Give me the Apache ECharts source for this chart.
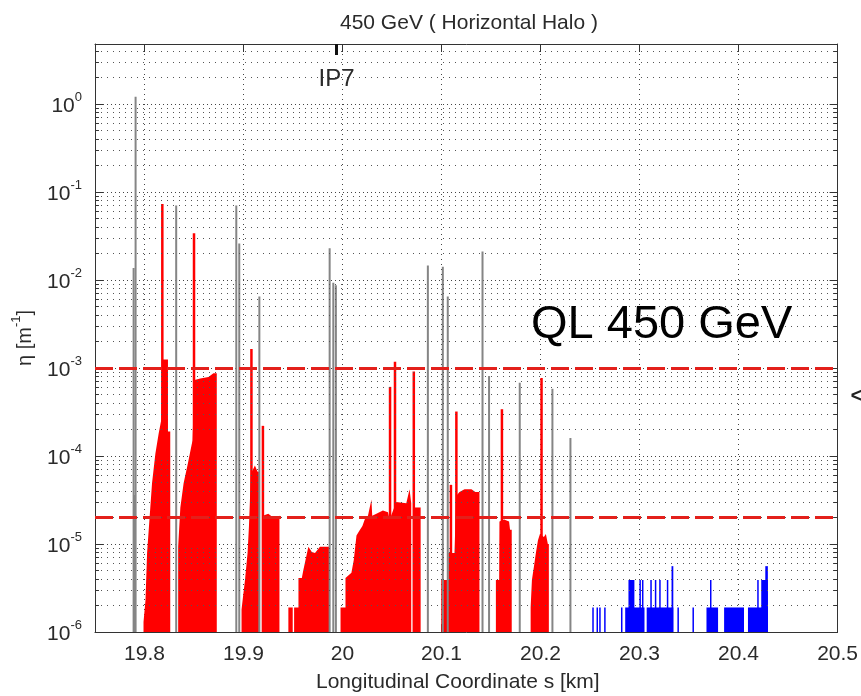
<!DOCTYPE html>
<html>
<head>
<meta charset="utf-8">
<script src="https://cdn.jsdelivr.net/npm/echarts@6/dist/echarts.min.js"></script>
<style>
html, body { margin: 0; padding: 0; background: #fff; }
#chart { width: 861px; height: 696px; }
</style>
</head>
<body>
<div id="chart"></div>
<script>
// axis ranges
var xMin = 19.75, xMax = 20.5;
var yMin = 1e-6, yMax = 4.8;

// grey loss spikes (s [km], eta)
var grayS   = [19.789, 19.790, 19.791, 19.832, 19.8927, 19.8957, 19.916, 19.987, 19.9907, 19.9933,
               20.0862, 20.1013, 20.1063, 20.1414, 20.148, 20.179, 20.212, 20.2302];
var grayEta = [0.0137, 3.6e-5, 1.21, 0.070, 0.070, 0.026, 6.5e-3, 0.023, 9.3e-3, 8.7e-3,
               0.0146, 0.0141, 6.5e-3, 0.021, 8.1e-4, 6.8e-4, 5.8e-4, 1.6e-4];

// thin red spikes
var redSpikeS   = [19.818, 19.850, 19.908, 19.9196, 20.048, 20.053, 20.072, 20.1095, 20.115, 20.161, 20.201];
var redSpikeEta = [0.073, 0.034, 1.64e-3, 2.2e-4, 6.1e-4, 1.18e-3, 9.1e-4, 4.7e-5, 3.2e-4, 3.4e-4, 7.7e-4];

// red filled loss regions, blocks separated by null
var redS = [
  19.799, 19.801, 19.8026, 19.805, 19.8076, 19.811, 19.8143, 19.817, 19.8184, 19.8237, 19.8237, 19.826, null,
  19.834, 19.8362, 19.8395, 19.8438, 19.8472, 19.8485, 19.8505, 19.8563, 19.8646, 19.8696, 19.873, null,
  19.898, 19.9015, 19.9041, 19.9055, 19.9075, 19.9115, 19.9142, 19.9156, null,
  19.9196, 19.925, 19.930, 19.9363, null,
  19.9453, 19.9497, null,
  19.9511, 19.9555, 19.9555, 19.9589, 19.9605, 19.9655, 19.969, 19.9722, 19.9772, 19.9865, null,
  19.998, 20.003, 20.003, 20.009, 20.0114, 20.0141, 20.0167, 20.0201, 20.0224, 20.0257, 20.0292, 20.030,
  20.0342, 20.0408, 20.0459, 20.0476, 20.0543, 20.0644, 20.0677, 20.0694, null,
  20.0727, 20.0789, null,
  20.0997, 20.107, 20.107, 20.1131, 20.1148, 20.1181, 20.1232, 20.1302, 20.1342, 20.1383, null,
  20.1549, 20.1582, 20.1585, 20.1632, 20.1682, 20.1692, 20.1709, null,
  20.19, 20.1913, 20.1933, 20.1953, 20.1974, 20.1994, 20.2034, 20.2054, 20.2074, 20.2084
];
var redEta = [
  1.3e-6, 2.3e-6, 7.9e-6, 1.9e-5, 4.9e-5, 1.07e-4, 1.8e-4, 2.6e-4, 1.25e-3, 1.25e-3, 1.9e-4, 1.9e-4, null,
  9.3e-6, 2.6e-5, 4.9e-5, 8.2e-5, 1.27e-4, 1.5e-4, 7.3e-4, 7.6e-4, 7.9e-4, 8.7e-4, 8.7e-4, null,
  1.8e-6, 3.9e-6, 7.9e-6, 1.6e-5, 6.3e-5, 7.8e-5, 6.6e-5, 6.6e-5, null,
  2.1e-5, 2.2e-5, 2.0e-5, 2.1e-5, null,
  1.9e-6, 1.9e-6, null,
  1.9e-6, 1.9e-6, 4.1e-6, 4.1e-6, 5.1e-6, 9.3e-6, 8.1e-6, 7.9e-6, 9.3e-6, 9.3e-6, null,
  1.9e-6, 1.9e-6, 4.1e-6, 4.7e-6, 6.6e-6, 1.25e-5, 1.4e-5, 1.6e-5, 1.9e-5, 2.1e-5, 3.2e-5, 2.1e-5,
  2.2e-5, 2.4e-5, 2.3e-5, 1.9e-5, 3.0e-5, 2.9e-5, 4.2e-5, 2.9e-5, null,
  2.6e-5, 2.6e-5, null,
  3.9e-6, 3.9e-6, 7.9e-6, 7.9e-6, 3.5e-5, 3.9e-5, 4.2e-5, 4.2e-5, 3.9e-5, 3.9e-5, null,
  3.9e-6, 3.9e-6, 1.8e-5, 1.9e-5, 1.8e-5, 1.45e-5, 1.45e-5, null,
  1.9e-6, 3.9e-6, 5.5e-6, 7.9e-6, 1.1e-5, 1.3e-5, 1.2e-5, 1.3e-5, 1.0e-5, 1.0e-5
];

// blue bins: start s, end s, level
var blueStart = [20.253, 20.2573, 20.26, 20.265, 20.282, 20.2855, 20.2888, 20.3006, 20.3032,
                 20.3072, 20.3116, 20.3162, 20.3206, 20.3283, 20.3323, 20.339, 20.3542,
                 20.3676, 20.3719, 20.3854, 20.4095, 20.4196, 20.4229, 20.427];
var blueEnd   = [20.253, 20.2573, 20.26, 20.265, 20.282, 20.305, 20.2948, 20.3006, 20.3032,
                 20.3341, 20.3116, 20.3162, 20.3206, 20.3283, 20.3341, 20.339, 20.3542,
                 20.3793, 20.3719, 20.4055, 20.4296, 20.4196, 20.4296, 20.4296];
var blueLevel = [1.9e-6, 1.9e-6, 1.9e-6, 1.9e-6, 1.9e-6, 1.9e-6, 3.9e-6, 3.9e-6, 3.9e-6,
                 1.9e-6, 3.9e-6, 3.9e-6, 3.9e-6, 3.9e-6, 5.6e-6, 1.9e-6, 1.9e-6,
                 1.9e-6, 3.9e-6, 1.9e-6, 1.9e-6, 3.9e-6, 3.9e-6, 5.6e-6];

// quench limit lines
var qlLevels = [1e-3, 2e-5];
var ip7S = 19.994;

var FONT = "'Liberation Sans', Arial, sans-serif";
var TXT = '#2a2a2a';

// split red arrays into blocks
var redBlocks = [];
var cur = [];
for (var i = 0; i < redS.length; i++) {
    if (redS[i] === null) {
        redBlocks.push(cur);
        cur = [];
    } else {
        cur.push([redS[i], redEta[i]]);
    }
}
if (cur.length) redBlocks.push(cur);

// minor grid values 2..9 x 10^n
var minorVals = [];
for (var n = -6; n <= 0; n++) {
    for (var k = 2; k <= 9; k++) {
        var v = k * Math.pow(10, n);
        if (v < yMax) minorVals.push(v);
    }
}

function spikeItem(color, w) {
    return function (params, api) {
        var top = api.coord([api.value(0), api.value(1)]);
        var bot = api.coord([api.value(0), yMin]);
        return {
            type: 'rect',
            shape: { x: top[0] - w / 2, y: top[1], width: w, height: bot[1] - top[1] },
            style: { fill: color }
        };
    };
}

var chart = echarts.init(document.getElementById('chart'));

var option = {
    animation: false,
    backgroundColor: '#fff',
    title: [{
        text: '450 GeV ( Horizontal Halo )',
        left: 335, top: 8,
        textStyle: { fontFamily: FONT, fontSize: 21, fontWeight: 'normal', color: TXT }
    }, {
        text: 'Longitudinal Coordinate s [km]',
        left: 311, top: 667,
        textStyle: { fontFamily: FONT, fontSize: 21, fontWeight: 'normal', color: TXT }
    }],
    grid: { left: 95, right: 21, top: 44, bottom: 64, containLabel: false },
    xAxis: [{
        type: 'value', min: xMin, max: xMax, splitNumber: 8, minInterval: 0.1, maxInterval: 0.1,
        position: 'bottom',
        axisLine: { show: true, onZero: false, lineStyle: { color: '#333', width: 1 } },
        axisTick: { show: true, inside: true, length: 8, lineStyle: { color: '#333' } },
        axisLabel: {
            showMinLabel: false, margin: 12, fontFamily: FONT, fontSize: 21, color: TXT,
            formatter: function (v) { return Math.abs(v * 10 - Math.round(v * 10)) < 1e-6 ? String(+v.toFixed(1)) : ''; }
        },
        splitLine: { show: true, lineStyle: { color: '#444', type: [1, 4], width: 1 } }
    }, {
        type: 'value', min: xMin, max: xMax, splitNumber: 8, minInterval: 0.1, maxInterval: 0.1,
        position: 'top',
        axisLine: { show: true, onZero: false, lineStyle: { color: '#333', width: 1 } },
        axisTick: { show: true, inside: true, length: 8, lineStyle: { color: '#333' } },
        axisLabel: { show: false },
        splitLine: { show: false }
    }],
    yAxis: [{
        type: 'log', logBase: 10, min: yMin, max: yMax, position: 'left',
        axisLine: { show: true, onZero: false, lineStyle: { color: '#333', width: 1 } },
        axisTick: { show: true, inside: true, length: 8, lineStyle: { color: '#333' } },
        splitLine: { show: true, lineStyle: { color: '#444', type: [1, 3], width: 1 } },
        axisLabel: {
            margin: 13,
            formatter: function (v) {
                var e = Math.log10(v);
                if (Math.abs(e - Math.round(e)) > 1e-6) return '';
                return '{b|10}{s|' + Math.round(e) + '}';
            },
            rich: {
                b: { fontFamily: FONT, fontSize: 21, color: TXT, verticalAlign: 'bottom' },
                s: { fontFamily: FONT, fontSize: 13, color: TXT, verticalAlign: 'top', padding: [0, 0, 13, 0] }
            }
        },
        name: '{n|\u03b7 [m}{e|-1}{n|]}',
        nameLocation: 'middle', nameRotate: 90, nameGap: 60,
        nameTextStyle: {
            rich: {
                n: { fontFamily: FONT, fontSize: 20, color: TXT, verticalAlign: 'bottom' },
                e: { fontFamily: FONT, fontSize: 13, color: TXT, verticalAlign: 'top', padding: [0, 0, 12, 0] }
            }
        }
    }, {
        type: 'log', logBase: 10, min: yMin, max: yMax, position: 'right',
        axisLine: { show: true, onZero: false, lineStyle: { color: '#333', width: 1 } },
        axisTick: { show: true, inside: true, length: 8, lineStyle: { color: '#333' } },
        axisLabel: { show: false },
        splitLine: { show: false }
    }],
    graphic: [{
        type: 'text', left: 531, top: 302, z: 100,
        style: { text: 'QL 450 GeV', font: '47px ' + FONT, fill: '#000' }
    }, {
        type: 'text', left: 850, top: 382, z: 100,
        style: { text: '<', font: '30px ' + FONT, fill: '#222' }
    }],
    series: [{
        // minor grid lines and minor ticks
        type: 'line', data: [], silent: true, z: 1,
        markLine: {
            silent: true, symbol: ['none', 'none'], animation: false, precision: 12,
            label: { show: false },
            lineStyle: { color: '#555', type: [1, 5], width: 1 },
            data: minorVals.map(function (v) { return { yAxis: v }; })
        }
    }, {
        type: 'line', data: [], silent: true, z: 1,
        markLine: {
            silent: true, symbol: ['none', 'none'], animation: false, precision: 12,
            label: { show: false },
            lineStyle: { color: '#333', type: 'solid', width: 1 },
            data: minorVals.map(function (v) {
                return [{ coord: [xMin, v] }, { coord: [xMin + 0.004, v] }];
            }).concat(minorVals.map(function (v) {
                return [{ coord: [xMax - 0.004, v] }, { coord: [xMax, v] }];
            }))
        }
    }, {
        // red filled regions
        type: 'custom', clip: true, z: 3,
        data: redBlocks.map(function (b, i) { return [b[0][0], b[0][1], i]; }),
        encode: { x: 0, y: 1 },
        renderItem: function (params, api) {
            var b = redBlocks[api.value(2)];
            var pts = [api.coord([b[0][0], yMin])];
            for (var j = 0; j < b.length; j++) pts.push(api.coord(b[j]));
            pts.push(api.coord([b[b.length - 1][0], yMin]));
            return { type: 'polygon', shape: { points: pts }, style: { fill: '#ff0000' } };
        }
    }, {
        // grey spikes
        type: 'custom', clip: true, z: 4,
        data: grayS.map(function (s, i) { return [s, grayEta[i]]; }),
        encode: { x: 0, y: 1 },
        renderItem: spikeItem('#858585', 2)
    }, {
        // red spikes
        type: 'custom', clip: true, z: 4,
        data: redSpikeS.map(function (s, i) { return [s, redSpikeEta[i]]; }),
        encode: { x: 0, y: 1 },
        renderItem: spikeItem('#ff0000', 2.5)
    }, {
        // blue bins
        type: 'custom', clip: true, z: 4,
        data: blueStart.map(function (s, i) { return [s, blueEnd[i], blueLevel[i]]; }),
        encode: { x: [0, 1], y: 2 },
        renderItem: function (params, api) {
            var p0 = api.coord([api.value(0), api.value(2)]);
            var p1 = api.coord([api.value(1), yMin]);
            var w = Math.max(p1[0] - p0[0], 1.5);
            return {
                type: 'rect',
                shape: { x: p0[0] - (p1[0] - p0[0] < 1.5 ? 0.75 : 0), y: p0[1], width: w, height: p1[1] - p0[1] },
                style: { fill: '#0000ff' }
            };
        }
    }, {
        // quench limit dashed lines
        type: 'line', data: [], silent: true, z: 6,
        markLine: {
            silent: true, symbol: ['none', 'none'], animation: false, precision: 12,
            label: { show: false },
            lineStyle: { color: '#e3201b', type: [18, 6], width: 3 },
            data: qlLevels.map(function (v) { return { yAxis: v }; })
        }
    }, {
        // IP7 marker
        type: 'line', data: [], silent: true, z: 6,
        markLine: {
            silent: true, symbol: ['none', 'none'], animation: false, precision: 12,
            lineStyle: { color: '#111', type: 'solid', width: 3 },
            label: {
                show: true, position: 'end', distance: 12, formatter: 'IP7',
                fontFamily: FONT, fontSize: 24, color: TXT
            },
            data: [[{ coord: [ip7S, yMax] }, { coord: [ip7S, 3.6] }]]
        }
    }]
};

chart.setOption(option);
</script>
</body>
</html>
